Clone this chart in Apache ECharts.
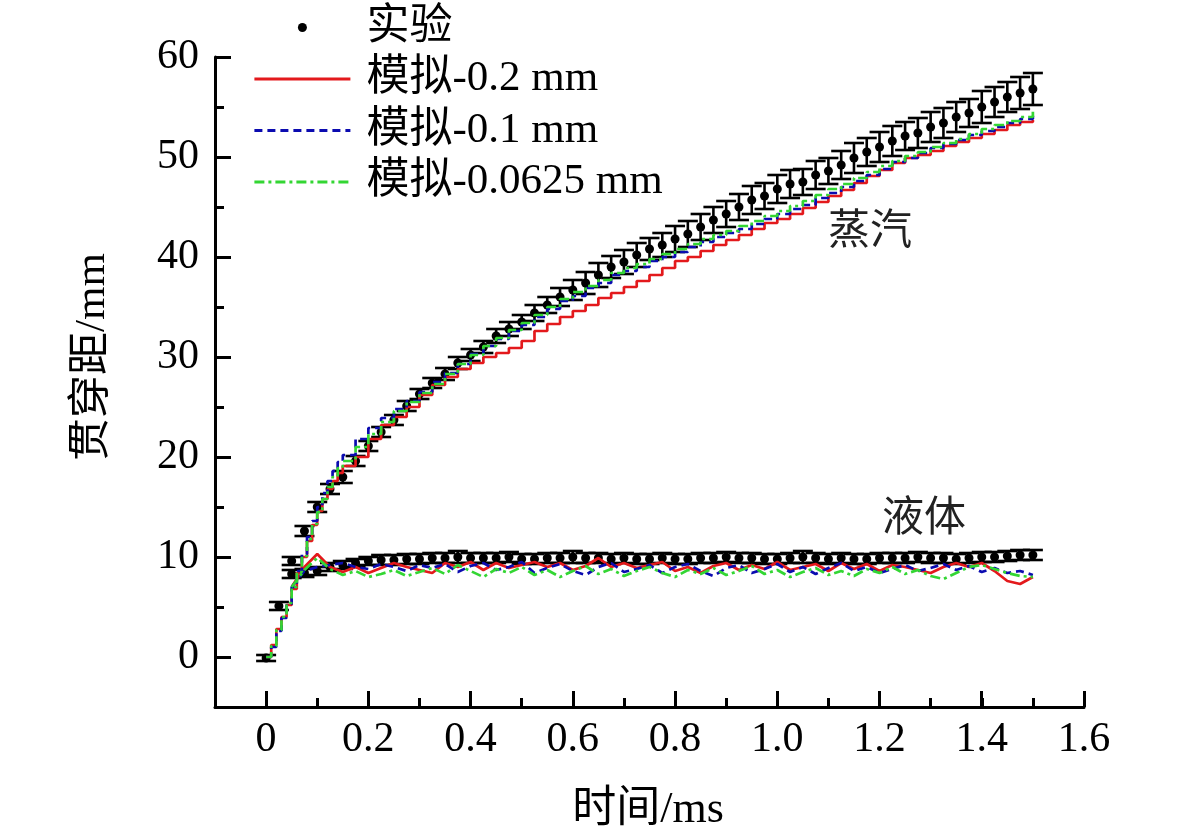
<!DOCTYPE html>
<html>
<head>
<meta charset="utf-8">
<script src="https://cdn.jsdelivr.net/npm/echarts@6/dist/echarts.min.js"></script>
<style>
  html, body { margin: 0; padding: 0; background: #fff; }
  #chart { width: 1181px; height: 838px; }
</style>
</head>
<body>
<div id="chart"></div>
<script>
// 实验测量时刻 (ms)
var tExp = [0, 0.025, 0.05, 0.075, 0.1, 0.125, 0.15, 0.175, 0.2, 0.225, 0.25, 0.275, 0.3,
    0.325, 0.35, 0.375, 0.4, 0.425, 0.45, 0.475, 0.5, 0.525, 0.55, 0.575, 0.6, 0.625, 0.65,
    0.675, 0.7, 0.725, 0.75, 0.775, 0.8, 0.825, 0.85, 0.875, 0.9, 0.925, 0.95, 0.975, 1.0,
    1.025, 1.05, 1.075, 1.1, 1.125, 1.15, 1.175, 1.2, 1.225, 1.25, 1.275, 1.3, 1.325, 1.35,
    1.375, 1.4, 1.425, 1.45, 1.475, 1.5];

// 蒸汽相贯穿距 实验值 / 误差
var vaporExp = [-0.1, 5.1, 9.6, 12.6, 15.0, 16.8, 18.0, 19.6, 21.1, 22.5, 23.7, 25.1, 26.3,
    27.4, 28.3, 29.4, 30.2, 31.0, 32.1, 32.8, 33.5, 34.4, 35.2, 36.0, 36.7, 37.4, 38.2,
    39.0, 39.5, 40.2, 40.8, 41.2, 41.8, 42.3, 43.0, 43.7, 44.3, 45.0, 45.7, 46.1, 46.8,
    47.3, 47.5, 48.2, 48.6, 49.2, 49.9, 50.5, 51.0, 51.6, 52.1, 52.4, 53.0, 53.4, 54.0,
    54.4, 55.0, 55.5, 56.0, 56.4, 56.8];
var vaporErr = [0.3, 0.4, 0.4, 0.5, 0.5, 0.5, 0.6, 0.5, 0.5, 0.5, 0.5, 0.5, 0.5,
    0.5, 0.6, 0.6, 0.6, 0.6, 0.7, 0.7, 0.7, 0.8, 0.8, 0.9, 1.0, 1.1, 1.2,
    1.1, 1.2, 1.2, 1.1, 1.2, 1.3, 1.3, 1.3, 1.3, 1.3, 1.3, 1.4, 1.3, 1.4,
    1.4, 1.3, 1.4, 1.3, 1.4, 1.5, 1.4, 1.5, 1.5, 1.4, 1.5, 1.5, 1.5, 1.5,
    1.4, 1.6, 1.5, 1.5, 1.6, 1.6];

// 液相贯穿距 实验值 / 误差 (从 0.05 ms 开始)
var liquidExp = [8.3, 8.4, 8.6, 9.0, 9.2, 9.4, 9.6, 9.7, 9.7, 9.8, 9.8,
    9.9, 9.9, 10.0, 9.9, 9.9, 9.9, 10.0, 9.8, 9.8, 9.9,
    9.9, 10.0, 9.9, 9.9, 9.8, 9.9, 9.8, 9.8, 9.9, 9.8,
    9.8, 9.9, 9.9, 10.0, 9.9, 9.9, 9.8, 9.8, 9.9, 10.0,
    9.9, 9.8, 9.9, 9.8, 9.8, 9.9, 9.9, 9.9, 10.0, 9.9,
    9.9, 9.8, 9.9, 10.0, 10.0, 10.1, 10.2, 10.2];
var liquidErr = [0.4, 0.4, 0.4, 0.4, 0.4, 0.4, 0.4, 0.5, 0.5, 0.5, 0.5,
    0.5, 0.5, 0.6, 0.5, 0.5, 0.5, 0.5, 0.5, 0.5, 0.5,
    0.5, 0.6, 0.5, 0.5, 0.5, 0.5, 0.5, 0.5, 0.5, 0.5,
    0.5, 0.5, 0.5, 0.5, 0.5, 0.5, 0.5, 0.5, 0.5, 0.6,
    0.5, 0.5, 0.5, 0.5, 0.5, 0.5, 0.5, 0.5, 0.5, 0.5,
    0.5, 0.5, 0.5, 0.5, 0.5, 0.5, 0.5, 0.5];

// 模拟 蒸汽相 时刻 (ms)
var tSimV = [0, 0.01, 0.02, 0.03, 0.04, 0.05, 0.06, 0.07, 0.08, 0.09, 0.1, 0.11, 0.12, 0.13,
    0.14, 0.15, 0.175, 0.2, 0.225, 0.25, 0.275, 0.3, 0.325, 0.35, 0.375, 0.4, 0.425, 0.45,
    0.475, 0.5, 0.525, 0.55, 0.575, 0.6, 0.625, 0.65, 0.675, 0.7, 0.725, 0.75, 0.775, 0.8,
    0.825, 0.85, 0.875, 0.9, 0.925, 0.95, 0.975, 1.0, 1.025, 1.05, 1.075, 1.1, 1.125, 1.15,
    1.175, 1.2, 1.225, 1.25, 1.275, 1.3, 1.325, 1.35, 1.375, 1.4, 1.425, 1.45, 1.475, 1.5];

var vapor02 = [0, 1.2, 2.8, 4.0, 5.2, 6.8, 8.4, 10.0, 11.6, 13.2, 14.6, 15.8, 16.8, 17.6, 18.4, 19.1,
    20.0, 21.8, 23.2, 24.0, 25.0, 26.2, 27.2, 28.0, 28.8, 29.4, 30.0, 30.4, 30.9, 31.6, 32.6,
    33.3, 34.0, 34.6, 35.2, 35.9, 36.4, 37.0, 37.6, 38.2, 38.9, 39.6, 40.0, 40.6, 41.2, 41.7,
    42.2, 42.8, 43.4, 43.8, 44.3, 44.9, 45.5, 46.1, 46.7, 47.4, 48.1, 48.7, 49.4, 49.9, 50.2,
    50.6, 51.1, 51.5, 51.9, 52.3, 52.7, 53.2, 53.5, 53.7];
var vapor01 = [0, 1.0, 2.6, 3.9, 5.3, 7.0, 8.6, 10.3, 12.0, 13.6, 15.0, 16.4, 17.6, 18.6, 19.5, 20.2,
    21.8, 22.9, 23.9, 24.8, 25.6, 26.5, 27.5, 28.4, 29.3, 30.3, 31.1, 31.8, 32.6, 33.2, 34.0,
    34.8, 35.6, 36.1, 36.9, 37.4, 38.2, 38.6, 39.0, 39.6, 40.0, 40.5, 41.0, 41.5, 42.0, 42.4,
    42.8, 43.3, 43.8, 44.3, 44.8, 45.2, 45.9, 46.4, 47.0, 47.6, 48.2, 48.8, 49.5, 49.9, 50.4,
    50.9, 51.3, 51.7, 52.2, 52.6, 53.0, 53.4, 53.8, 54.2];
var vapor00625 = [0, 1.1, 2.7, 4.0, 5.4, 7.0, 8.5, 10.1, 11.8, 13.3, 14.5, 15.8, 17.0, 18.0, 18.9, 19.6,
    21.0, 22.3, 23.5, 24.6, 25.5, 26.4, 27.3, 28.3, 29.3, 30.2, 31.1, 31.9, 32.7, 33.4, 34.2,
    35.0, 35.8, 36.5, 37.1, 37.7, 38.4, 38.9, 39.3, 39.8, 40.3, 40.8, 41.3, 41.8, 42.2, 42.6,
    43.1, 43.6, 44.1, 44.6, 45.1, 45.6, 46.2, 46.8, 47.3, 47.9, 48.5, 49.1, 49.6, 50.1, 50.5,
    51.0, 51.4, 51.8, 52.3, 52.8, 53.2, 53.6, 54.0, 54.6];

// 模拟 液相 (时刻同 tExp, 从 0.05 ms 开始)
var liquid02 = [7.0, 9.0, 10.3, 9.0, 8.5, 9.0, 8.4, 8.9, 9.4, 9.0, 8.7,
    8.4, 9.4, 9.0, 9.5, 8.7, 9.4, 8.9, 9.2, 9.5, 9.0,
    9.4, 8.7, 9.1, 9.9, 9.0, 9.4, 8.9, 9.2, 9.5, 8.6,
    9.0, 8.4, 9.1, 9.4, 8.7, 9.2, 8.8, 9.5, 8.7, 9.0,
    9.3, 8.6, 9.4, 8.8, 9.3, 8.6, 9.2, 9.0, 8.7, 8.4,
    9.0, 9.4, 9.0, 9.4, 8.6, 7.6, 7.3, 8.0];
var liquid01 = [7.0, 8.6, 9.0, 9.2, 9.4, 9.0, 8.8, 9.3, 9.0, 8.6, 9.2,
    8.9, 9.3, 8.5, 9.1, 9.4, 8.7, 9.0, 9.5, 8.4, 8.9,
    9.3, 8.6, 8.2, 9.0, 9.4, 8.5, 8.8, 9.2, 8.4, 9.0,
    9.3, 8.6, 8.1, 8.9, 9.2, 8.4, 8.8, 9.3, 8.5, 9.0,
    8.3, 8.9, 9.4, 8.6, 9.0, 8.4, 8.8, 9.2, 8.6, 8.9,
    9.3, 8.7, 9.1, 8.5, 8.9, 8.4, 8.6, 8.2];
var liquid00625 = [7.0, 8.7, 9.9, 8.8, 8.2, 8.6, 8.0, 8.3, 8.7, 8.1, 8.5,
    8.9, 8.3, 9.2, 8.6, 8.0, 8.8, 8.4, 9.0, 8.2, 8.7,
    8.0, 8.6, 9.1, 8.3, 8.8, 8.1, 8.6, 9.0, 8.4, 8.0,
    8.7, 8.3, 8.9, 8.2, 8.6, 9.1, 8.3, 8.7, 8.0, 8.5,
    8.9, 8.2, 8.6, 8.1, 8.8, 8.4, 9.0, 8.3, 8.7, 8.1,
    7.8, 8.4, 9.0, 9.2, 8.8, 8.4, 8.1, 8.0];

var xTicks = [0, 0.2, 0.4, 0.6, 0.8, 1.0, 1.2, 1.4, 1.6];
var yTicks = [0, 10, 20, 30, 40, 50, 60];

var FONT = "'Liberation Serif', 'Times New Roman', 'Noto Sans CJK SC', serif";
var RED = '#e3191c', BLUE = '#0b0bb0', GREEN = '#33d633';
var DASH_BLUE = [8, 5], DASH_GREEN = [10, 4, 3, 4];

function pairs(ts, vs) {
    return vs.map(function (v, i) { return [ts[i], v]; });
}
function errRows(ts, vs, es) {
    return vs.map(function (v, i) { return [ts[i], v - es[i], v + es[i]]; });
}

var tLiq = tExp.slice(2);

function renderErr(params, api) {
    var x = api.value(0);
    var lo = api.coord([x, api.value(1)]);
    var hi = api.coord([x, api.value(2)]);
    var hw = 10;
    var st = { stroke: '#000', lineWidth: 2.6 };
    return {
        type: 'group',
        children: [
            { type: 'line', shape: { x1: lo[0], y1: lo[1], x2: hi[0], y2: hi[1] }, style: st },
            { type: 'line', shape: { x1: lo[0] - hw, y1: lo[1], x2: lo[0] + hw, y2: lo[1] }, style: st },
            { type: 'line', shape: { x1: hi[0] - hw, y1: hi[1], x2: hi[0] + hw, y2: hi[1] }, style: st }
        ]
    };
}

function simLine(name, data, color, type, step) {
    return {
        name: name,
        type: 'line',
        data: data,
        step: step,
        symbol: 'none',
        xAxisIndex: 0,
        yAxisIndex: 0,
        lineStyle: { color: color, width: 2.7, type: type },
        itemStyle: { color: color },
        z: 5
    };
}

function legendLine(name, color, type) {
    return {
        name: name,
        itemStyle: { opacity: 0 },
        lineStyle: { color: color, width: 2.8, type: type }
    };
}

var myChart = echarts.init(document.getElementById('chart'), null, { renderer: 'canvas' });

var tickMinor = { show: true, inside: true, length: 9, lineStyle: { color: '#000', width: 3 } };
var tickMajor = { show: true, inside: true, length: 16, lineStyle: { color: '#000', width: 3 } };

var option = {
    animation: false,
    backgroundColor: '#fff',
    textStyle: { fontFamily: FONT },
    grid: [
        // 数据区
        { left: 215, top: 57, width: 869, height: 650 },
        // x 主刻度 (从 0 开始)
        { left: 266, top: 57, width: 818, height: 650 },
        // y 主刻度 (从 0 开始)
        { left: 215, top: 57, width: 869, height: 600 }
    ],
    legend: {
        orient: 'vertical',
        left: 253,
        top: 6,
        padding: 0,
        itemWidth: 96,
        itemHeight: 9,
        itemGap: 8.5,
        textStyle: { fontSize: 43, lineHeight: 42, fontFamily: FONT, color: '#000', padding: [0, 0, 0, 11] },
        data: [
            { name: '实验', itemStyle: { color: '#000', opacity: 1 } },
            legendLine('模拟-0.2 mm', RED, 'solid'),
            legendLine('模拟-0.1 mm', BLUE, DASH_BLUE),
            legendLine('模拟-0.0625 mm', GREEN, DASH_GREEN)
        ]
    },
    xAxis: [
        {
            type: 'value', gridIndex: 0, min: -0.1, max: 1.6, interval: 0.1,
            axisLine: { show: true, onZero: false, lineStyle: { color: '#000', width: 3 } },
            axisTick: tickMinor,
            axisLabel: { show: false },
            splitLine: { show: false }
        },
        {
            type: 'value', gridIndex: 1, min: xTicks[0], max: xTicks[xTicks.length - 1], interval: 0.2,
            axisLine: { show: false, onZero: false },
            axisTick: tickMajor,
            axisLabel: {
                show: true, margin: 12, fontSize: 42, color: '#000', fontFamily: FONT,
                formatter: function (v) { return v === 0 ? '0' : v.toFixed(1); }
            },
            splitLine: { show: false }
        },
        { type: 'value', gridIndex: 2, min: -0.1, max: 1.6, show: false }
    ],
    yAxis: [
        {
            type: 'value', gridIndex: 0, min: -5, max: 60, interval: 5,
            axisLine: { show: true, onZero: false, lineStyle: { color: '#000', width: 3 } },
            axisTick: tickMinor,
            axisLabel: { show: false },
            splitLine: { show: false }
        },
        { type: 'value', gridIndex: 1, min: -5, max: 60, show: false },
        {
            type: 'value', gridIndex: 2, min: yTicks[0], max: yTicks[yTicks.length - 1], interval: 10,
            axisLine: { show: false, onZero: false },
            axisTick: tickMajor,
            axisLabel: { show: true, margin: 16, fontSize: 42, color: '#000', fontFamily: FONT },
            splitLine: { show: false }
        }
    ],
    graphic: [
        { type: 'text', x: 648, y: 810, style: { text: '时间/ms', font: '44px ' + FONT, fill: '#000', align: 'center', verticalAlign: 'middle' } },
        { type: 'text', x: 93, y: 357, rotation: Math.PI / 2, style: { text: '贯穿距/mm', font: '43px ' + FONT, fill: '#000', align: 'center', verticalAlign: 'middle' } },
        { type: 'text', x: 870, y: 233, style: { text: '蒸汽', font: '42px ' + FONT, fill: '#222', align: 'center', verticalAlign: 'middle' } },
        { type: 'text', x: 924, y: 520, style: { text: '液体', font: '42px ' + FONT, fill: '#222', align: 'center', verticalAlign: 'middle' } }
    ],
    series: [
        {
            name: '误差-蒸汽', type: 'custom', xAxisIndex: 0, yAxisIndex: 0,
            renderItem: renderErr, encode: { x: 0, y: [1, 2] },
            data: errRows(tExp, vaporExp, vaporErr), z: 2
        },
        {
            name: '误差-液体', type: 'custom', xAxisIndex: 0, yAxisIndex: 0,
            renderItem: renderErr, encode: { x: 0, y: [1, 2] },
            data: errRows(tLiq, liquidExp, liquidErr), z: 2
        },
        {
            name: '实验', type: 'scatter', xAxisIndex: 0, yAxisIndex: 0,
            symbol: 'circle', symbolSize: 9, itemStyle: { color: '#000', opacity: 1 },
            data: pairs(tExp, vaporExp), z: 3
        },
        {
            name: '实验', type: 'scatter', xAxisIndex: 0, yAxisIndex: 0,
            symbol: 'circle', symbolSize: 9, itemStyle: { color: '#000', opacity: 1 },
            data: pairs(tLiq, liquidExp), z: 3
        },
        simLine('模拟-0.2 mm', pairs(tSimV, vapor02), RED, 'solid', 'end'),
        simLine('模拟-0.2 mm', pairs(tLiq, liquid02), RED, 'solid', false),
        simLine('模拟-0.1 mm', pairs(tSimV, vapor01), BLUE, DASH_BLUE, 'end'),
        simLine('模拟-0.1 mm', pairs(tLiq, liquid01), BLUE, DASH_BLUE, false),
        simLine('模拟-0.0625 mm', pairs(tSimV, vapor00625), GREEN, DASH_GREEN, 'end'),
        simLine('模拟-0.0625 mm', pairs(tLiq, liquid00625), GREEN, DASH_GREEN, false)
    ]
};

myChart.setOption(option);
</script>
</body>
</html>
